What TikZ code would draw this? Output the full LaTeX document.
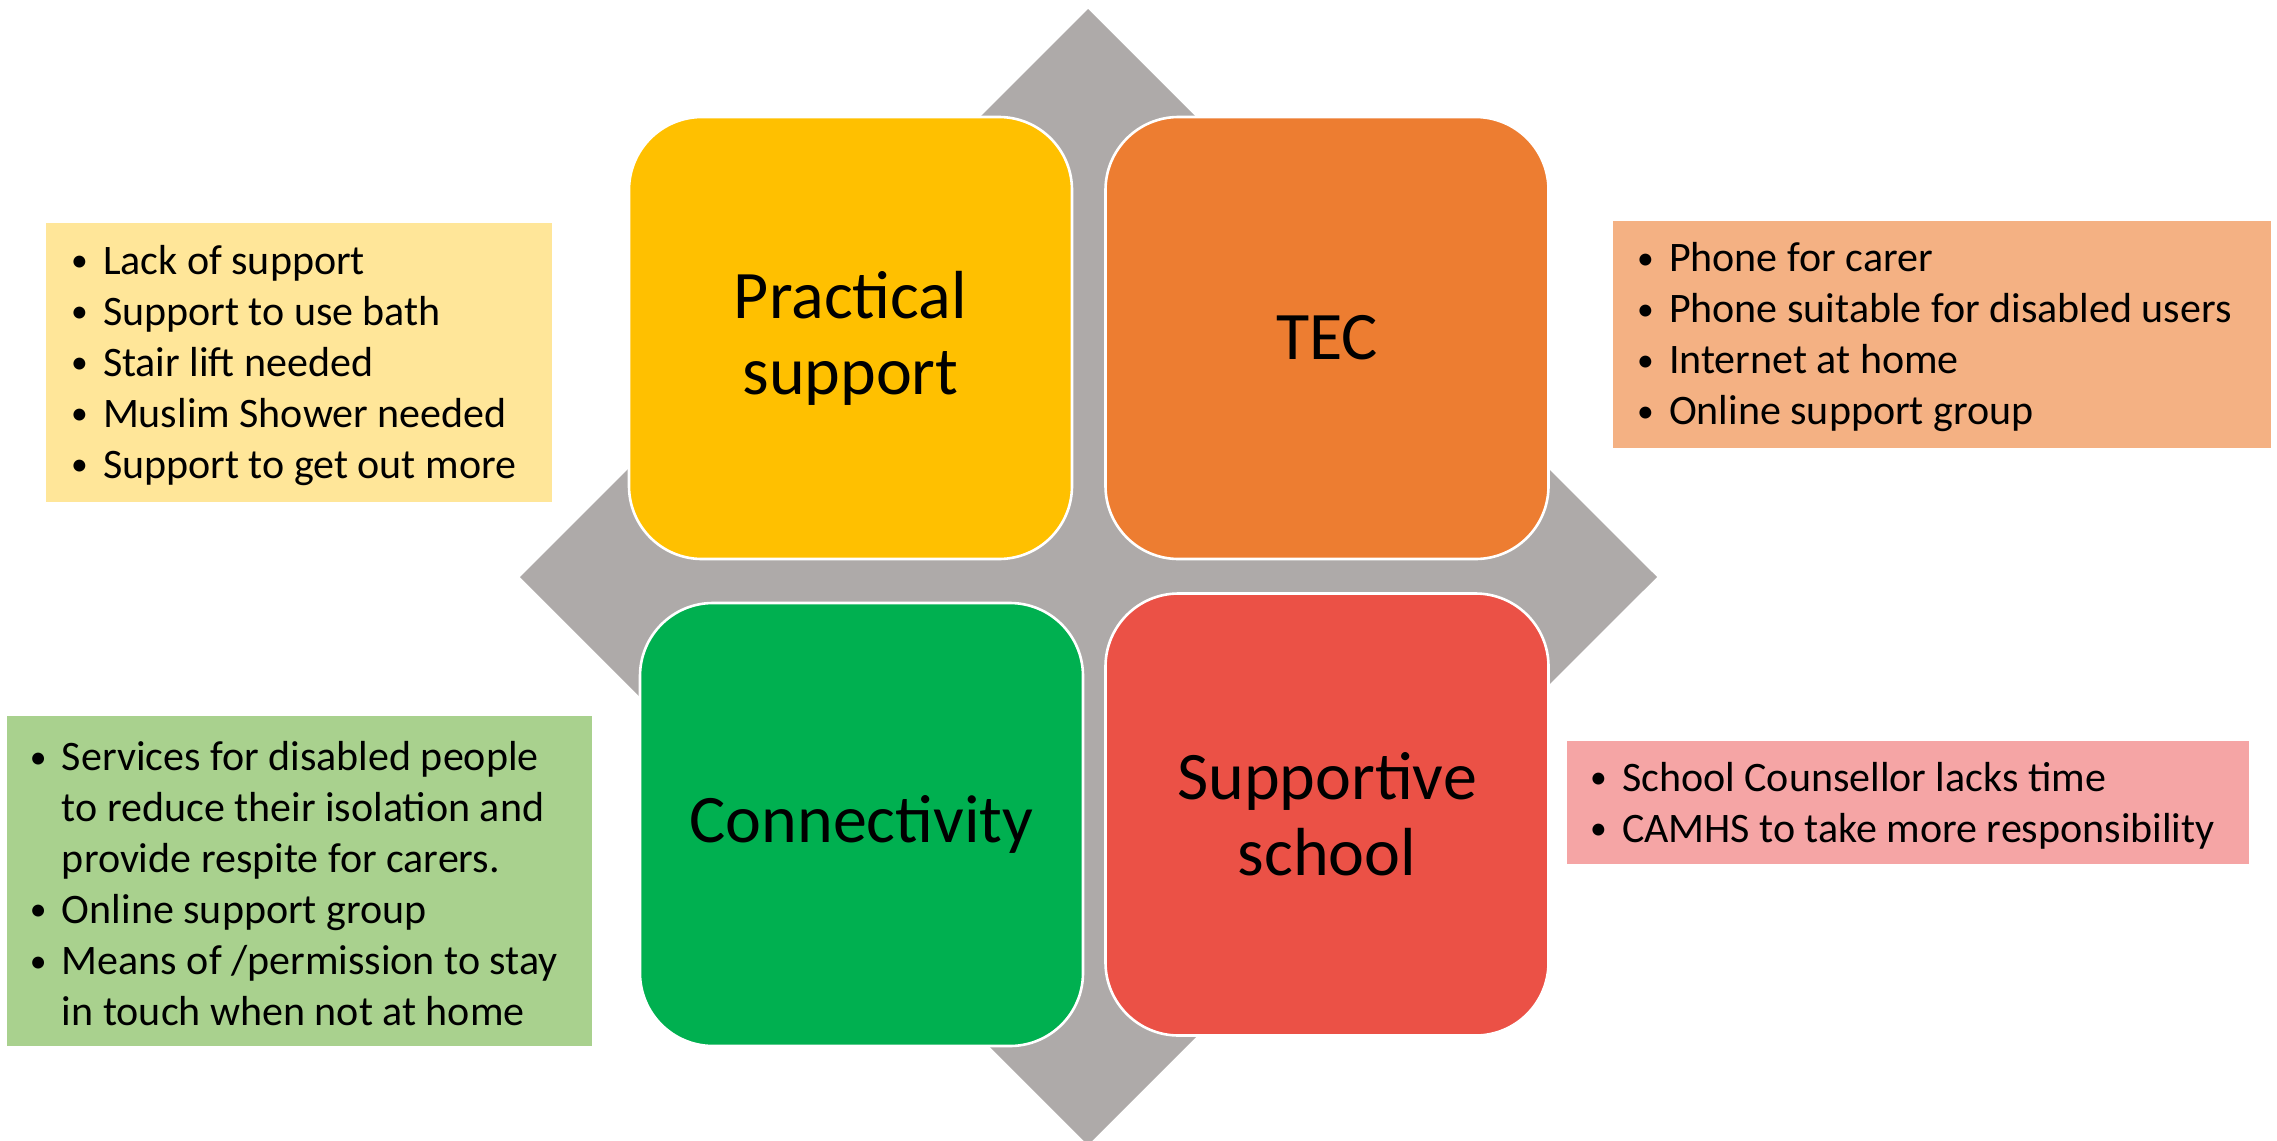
\documentclass[tikz,border=0pt]{standalone}
\usepackage{fontspec}
\usepackage{graphicx}
\setmainfont{Carlito}
\definecolor{diamondgray}{HTML}{AEAAA9}
\definecolor{goldq}{HTML}{FFC000}
\definecolor{orangeq}{HTML}{ED7D31}
\definecolor{greenq}{HTML}{00B050}
\definecolor{redq}{HTML}{EB5146}
\definecolor{goldnote}{HTML}{FFE699}
\definecolor{orangenote}{HTML}{F4B183}
\definecolor{greennote}{HTML}{A9D18E}
\definecolor{rednote}{HTML}{F5A5A5}
% bullet item and continuation line
\newcommand{\blt}{\raisebox{0.07em}{\scalebox{0.8}{\textbullet}}}
\newcommand{\itm}[1]{\makebox[16pt][l]{\blt}#1}
\newcommand{\cnt}[1]{\hspace*{16pt}#1}
\begin{document}
\begin{tikzpicture}[x=0.5pt,y=-0.5pt,
  quad/.style={rectangle, rounded corners=36.5pt, draw=white, line width=1.3pt,
    minimum width=221.5pt, minimum height=221pt, inner sep=0pt,
    font=\fontsize{34}{38}\selectfont, align=center},
  notebox/.style={rectangle, inner sep=0pt},
  notetext/.style={anchor=west, inner sep=0pt, align=left,
    font=\fontsize{21}{25.5}\selectfont}]
\useasboundingbox (0,0) rectangle (2277,1141);
% grey diamond behind the four quadrants
\fill[diamondgray] (1088,9) -- (1657,577) -- (1088,1145) -- (520,577) -- cycle;
% quadrants
\node[quad, fill=goldq]   (prac) at (850.5,338)  {Practical\\support};
\node[quad, fill=orangeq] (tec)  at (1327,338)   {TEC};
\node[quad, fill=greenq, minimum height=221.5pt] (conn) at (861.5,824.5) {Connectivity};
\node[quad, fill=redq]    (school) at (1327,814.5) {Supportive\\school};
% note boxes
\node[notebox, fill=goldnote, minimum width=253pt, minimum height=139.5pt] (pracnote) at (299,362.5) {};
\node[notebox, fill=orangenote, minimum width=329pt, minimum height=113.5pt] (tecnote) at (1942,334.5) {};
\node[notebox, fill=greennote, minimum width=292.5pt, minimum height=165pt] (connnote) at (299.5,881) {};
\node[notebox, fill=rednote, minimum width=341pt, minimum height=61.5pt] (schoolnote) at (1908,802.5) {};
% note texts
\node[notetext] (pracitems) at ([xshift=12.5pt,yshift=-1.5pt]pracnote.west)
  {\itm{Lack of support}\\ \itm{Support to use bath}\\ \itm{Stair lift needed}\\
   \itm{Muslim Shower needed}\\ \itm{Support to get out more}};
\node[notetext] (tecitems) at ([xshift=12pt,yshift=-1.5pt]tecnote.west)
  {\itm{Phone for carer}\\ \itm{Phone suitable for disabled users}\\ \itm{Internet at home}\\
   \itm{Online support group}};
\node[notetext] (connitems) at ([xshift=11.5pt,yshift=-1.5pt]connnote.west)
  {\itm{Services for disabled people}\\ \cnt{to reduce their isolation and}\\
   \cnt{provide respite for carers.}\\ \itm{Online support group}\\
   \itm{Means of /permission to stay}\\ \cnt{in touch when not at home}};
\node[notetext] (schoolitems) at ([xshift=11.5pt,yshift=-1.5pt]schoolnote.west)
  {\itm{School Counsellor lacks time}\\ \itm{CAMHS to take more responsibility}};
\end{tikzpicture}
\end{document}
